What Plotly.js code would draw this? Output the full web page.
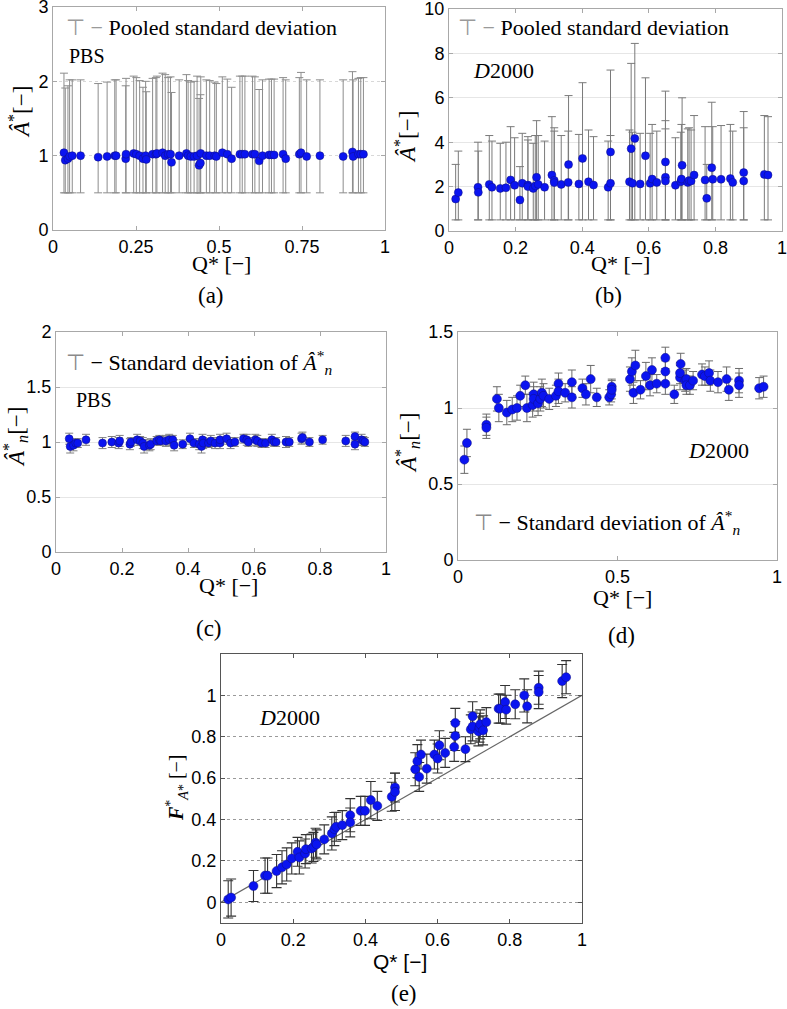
<!DOCTYPE html>
<html>
<head>
<meta charset="utf-8">
<script src="https://cdn.plot.ly/plotly-3.0.1.min.js"></script>
<style>html,body{margin:0;padding:0;background:#fff;}#chart{width:787px;height:1009px;}</style>
</head>
<body>
<div id="chart"></div>
<script>
// ---------- Panel (a): PBS, A* with pooled standard deviation ----------
const qA = [0.033,0.037,0.045,0.050,0.058,0.083,0.136,0.163,0.186,0.190,0.219,0.220,0.243,0.251,0.261,0.271,0.279,0.281,0.300,0.310,0.313,0.330,0.338,0.347,0.354,0.357,0.380,0.402,0.407,0.415,0.425,0.434,0.440,0.444,0.445,0.462,0.472,0.487,0.492,0.510,0.525,0.538,0.563,0.570,0.578,0.601,0.608,0.621,0.631,0.651,0.658,0.666,0.693,0.701,0.742,0.747,0.764,0.804,0.874,0.902,0.904,0.920,0.927,0.935];
const aA = [1.04,0.94,0.96,0.99,1.00,1.00,0.98,0.99,1.00,1.00,0.96,1.02,1.03,1.02,1.00,0.96,1.00,0.95,1.02,1.02,1.03,1.04,1.00,1.02,1.02,0.91,1.00,1.03,1.00,0.99,0.99,1.00,0.87,0.90,1.03,1.00,1.00,1.00,0.99,1.04,1.02,0.96,1.02,1.02,1.02,1.02,1.02,0.93,1.00,1.01,1.01,1.01,1.02,0.96,1.02,1.04,0.99,1.00,0.99,1.05,0.99,1.02,1.02,1.02];
const upperA = [2.11,1.91,1.94,2.02,2.02,2.02,1.97,1.99,2.02,2.02,1.94,2.04,2.07,2.05,2.01,1.92,2.00,1.86,2.04,2.05,2.07,2.11,2.09,2.05,2.06,1.85,2.02,2.09,2.01,1.99,2.00,2.07,1.77,1.82,2.06,2.02,2.01,1.99,1.97,2.06,2.03,1.92,2.07,2.07,2.07,2.07,2.06,1.89,2.02,2.03,2.03,2.03,2.05,2.02,2.05,2.12,2.02,2.02,2.02,2.13,2.02,2.04,2.05,2.05];
const lowerA = 0.5;

// ---------- Panel (b): D2000, A* with pooled standard deviation ----------
const qB = [0.020,0.028,0.087,0.088,0.121,0.129,0.154,0.171,0.185,0.197,0.213,0.220,0.237,0.237,0.253,0.259,0.263,0.268,0.287,0.309,0.316,0.316,0.337,0.358,0.359,0.390,0.401,0.419,0.434,0.478,0.485,0.485,0.542,0.547,0.551,0.558,0.574,0.590,0.604,0.610,0.624,0.650,0.650,0.650,0.680,0.696,0.698,0.700,0.717,0.721,0.727,0.736,0.769,0.774,0.789,0.792,0.817,0.845,0.852,0.885,0.885,0.947,0.958];
const aB = [1.44,1.73,1.97,1.74,2.10,1.97,1.92,1.95,2.30,2.06,1.40,2.15,2.07,2.00,1.92,2.03,2.42,2.10,1.97,2.52,2.28,2.18,2.10,2.19,2.99,2.12,3.27,2.22,2.07,1.97,3.56,2.15,2.22,3.71,2.15,4.17,2.12,3.39,2.15,2.34,2.19,3.11,2.42,2.25,2.06,2.22,2.34,2.96,2.19,2.27,2.25,2.52,2.30,1.47,2.85,2.33,2.33,2.36,2.19,2.63,2.25,2.55,2.52];
const upperB = [3.0,3.6,4.0,3.6,4.3,4.05,3.95,4.0,4.7,4.2,2.9,4.4,4.25,4.1,3.95,4.3,4.97,4.3,4.05,5.15,4.65,4.5,4.3,4.5,6.1,4.35,6.68,4.55,4.25,4.05,7.25,4.3,4.55,7.55,4.45,8.45,4.4,6.9,4.4,4.8,4.5,6.3,4.97,4.6,4.2,4.45,4.8,6.0,4.6,4.65,4.55,5.2,4.7,3.0,5.8,4.7,4.75,4.8,4.5,5.38,4.65,5.2,5.15];
const lowerB = 0.5;

// ---------- Panel (c): PBS, An* with standard deviation ----------
const qC = [0.040,0.043,0.053,0.060,0.066,0.091,0.141,0.169,0.190,0.193,0.224,0.227,0.246,0.255,0.263,0.267,0.283,0.287,0.305,0.313,0.317,0.333,0.343,0.354,0.358,0.384,0.406,0.418,0.434,0.441,0.444,0.446,0.462,0.469,0.482,0.497,0.497,0.517,0.529,0.542,0.568,0.578,0.583,0.604,0.610,0.623,0.635,0.654,0.661,0.667,0.697,0.707,0.744,0.747,0.768,0.808,0.878,0.906,0.906,0.926,0.931,0.936];
const aC = [1.03,0.96,0.97,0.99,0.99,1.02,0.99,1.00,0.99,1.01,0.98,1.00,1.02,1.01,0.99,0.96,0.97,0.98,1.01,1.02,1.01,1.01,1.02,1.02,0.97,0.98,1.03,0.99,0.98,0.96,1.02,0.99,0.99,1.01,0.99,0.99,1.02,1.03,0.99,1.00,1.03,1.02,1.00,1.02,1.01,0.99,0.99,1.02,1.00,1.00,1.00,1.00,1.03,1.04,1.00,1.02,1.01,1.05,0.98,1.02,1.01,1.00];
const sdC = [0.05,0.06,0.05,0.04,0.04,0.05,0.05,0.05,0.05,0.05,0.05,0.04,0.05,0.04,0.05,0.06,0.05,0.05,0.04,0.04,0.04,0.05,0.05,0.04,0.05,0.04,0.05,0.04,0.05,0.06,0.05,0.05,0.04,0.05,0.05,0.05,0.05,0.05,0.05,0.04,0.04,0.05,0.04,0.05,0.05,0.04,0.04,0.05,0.04,0.04,0.05,0.04,0.05,0.05,0.04,0.04,0.05,0.04,0.05,0.05,0.04,0.04];

// ---------- Panel (d): D2000, An* with standard deviation ----------
const qD = [0.020,0.028,0.089,0.089,0.122,0.128,0.153,0.170,0.185,0.195,0.211,0.216,0.234,0.237,0.237,0.251,0.258,0.263,0.268,0.286,0.307,0.315,0.315,0.336,0.357,0.357,0.390,0.401,0.416,0.435,0.474,0.480,0.482,0.482,0.539,0.545,0.550,0.556,0.572,0.589,0.602,0.608,0.623,0.650,0.650,0.650,0.678,0.696,0.696,0.698,0.712,0.716,0.716,0.727,0.737,0.765,0.774,0.787,0.791,0.815,0.842,0.849,0.881,0.881,0.944,0.958];
const aD = [0.66,0.77,0.89,0.87,1.06,1.00,0.97,0.99,1.00,1.08,1.15,1.00,1.02,1.09,1.06,1.03,1.06,1.10,1.08,1.06,1.08,1.16,1.11,1.10,1.17,1.07,1.13,1.09,1.19,1.07,1.07,1.09,1.14,1.12,1.19,1.24,1.10,1.28,1.12,1.21,1.15,1.25,1.16,1.33,1.24,1.16,1.09,1.20,1.23,1.29,1.18,1.19,1.15,1.15,1.18,1.22,1.21,1.23,1.18,1.17,1.19,1.12,1.18,1.15,1.13,1.14];
const sdD = [0.09,0.09,0.07,0.07,0.08,0.09,0.08,0.08,0.08,0.07,0.06,0.09,0.08,0.08,0.08,0.08,0.08,0.09,0.08,0.07,0.07,0.07,0.08,0.06,0.08,0.07,0.06,0.07,0.09,0.06,0.05,0.05,0.05,0.06,0.08,0.09,0.07,0.10,0.06,0.09,0.07,0.08,0.06,0.07,0.07,0.07,0.06,0.08,0.07,0.07,0.07,0.07,0.06,0.06,0.06,0.07,0.06,0.08,0.07,0.07,0.08,0.07,0.08,0.08,0.07,0.07];

// ---------- Panel (e): D2000, F*_A* vs Q* ----------
const qE = [0.020,0.028,0.090,0.122,0.129,0.154,0.169,0.182,0.196,0.212,0.217,0.233,0.235,0.251,0.256,0.262,0.265,0.286,0.307,0.314,0.319,0.336,0.358,0.358,0.387,0.399,0.415,0.433,0.473,0.482,0.482,0.538,0.544,0.549,0.554,0.570,0.591,0.600,0.605,0.621,0.646,0.649,0.649,0.677,0.692,0.697,0.697,0.713,0.716,0.718,0.726,0.735,0.769,0.774,0.787,0.790,0.815,0.840,0.848,0.880,0.880,0.945,0.956];
const fE = [0.014,0.023,0.079,0.129,0.129,0.151,0.169,0.183,0.212,0.244,0.217,0.236,0.257,0.260,0.268,0.288,0.280,0.304,0.333,0.354,0.365,0.373,0.421,0.386,0.442,0.442,0.494,0.466,0.510,0.555,0.534,0.643,0.682,0.606,0.714,0.646,0.714,0.695,0.759,0.722,0.751,0.804,0.867,0.740,0.836,0.899,0.850,0.826,0.844,0.860,0.831,0.871,0.936,0.936,0.968,0.931,0.957,1.000,0.947,1.037,1.016,1.069,1.088];
const sdE = [0.09,0.09,0.075,0.085,0.085,0.08,0.08,0.08,0.075,0.07,0.08,0.07,0.07,0.07,0.07,0.07,0.07,0.07,0.08,0.08,0.07,0.07,0.08,0.07,0.07,0.07,0.09,0.07,0.07,0.07,0.09,0.08,0.08,0.07,0.07,0.07,0.07,0.07,0.07,0.07,0.07,0.07,0.07,0.06,0.07,0.07,0.07,0.07,0.07,0.07,0.07,0.07,0.07,0.07,0.08,0.07,0.07,0.08,0.08,0.08,0.08,0.08,0.08];
const identityQ = [0, 1];
const identityF = [0, 1];

// ---------- tick labels ----------
const ticksA_x = [0, 0.25, 0.5, 0.75, 1], ticksA_xt = ['0','0.25','0.5','0.75','1'];
const ticksA_y = [0, 1, 2, 3], ticksA_yt = ['0','1','2','3'];
const ticksB_x = [0, 0.2, 0.4, 0.6, 0.8, 1], ticksB_xt = ['0','0.2','0.4','0.6','0.8','1'];
const ticksB_y = [0, 2, 4, 6, 8, 10], ticksB_yt = ['0','2','4','6','8','10'];
const ticksC_y = [0, 0.5, 1, 1.5, 2], ticksC_yt = ['0','0.5','1','1.5','2'];
const ticksD_x = [0, 0.5, 1], ticksD_xt = ['0','0.5','1'];
const ticksD_y = [0, 0.5, 1, 1.5], ticksD_yt = ['0','0.5','1','1.5'];
const ticksE_y = [0, 0.2, 0.4, 0.6, 0.8, 1], ticksE_yt = ['0','0.2','0.4','0.6','0.8','1'];

// ---------- build ----------
const W = 787, H = 1009;
const PX = p => p / W, PY = p => 1 - p / H;
const blue = '#0a14f0';
const mk = (s) => ({color: blue, size: s, line: {color: '#101080', width: 0.5}});

const traces = [
  {x: qA, y: aA, xaxis: 'x', yaxis: 'y', type: 'scatter', mode: 'markers', marker: mk(8),
   error_y: {type: 'data', symmetric: false, array: upperA.map((u, i) => u - aA[i]), arrayminus: aA.map(v => v - lowerA),
             color: '#8c8c8c', thickness: 1, width: 4}},
  {x: qB, y: aB, xaxis: 'x2', yaxis: 'y2', type: 'scatter', mode: 'markers', marker: mk(8),
   error_y: {type: 'data', symmetric: false, array: upperB.map((u, i) => u - aB[i]), arrayminus: aB.map(v => v - lowerB),
             color: '#7a7a7a', thickness: 1, width: 4}},
  {x: qC, y: aC, xaxis: 'x3', yaxis: 'y3', type: 'scatter', mode: 'markers', marker: mk(8),
   error_y: {type: 'data', array: sdC, color: '#808080', thickness: 1, width: 4}},
  {x: qD, y: aD, xaxis: 'x4', yaxis: 'y4', type: 'scatter', mode: 'markers', marker: mk(9),
   error_y: {type: 'data', array: sdD, color: '#6a6a6a', thickness: 1, width: 4}},
  {x: identityQ, y: identityF, xaxis: 'x5', yaxis: 'y5', type: 'scatter', mode: 'lines',
   line: {color: '#666', width: 1.2}},
  {x: qE, y: fE, xaxis: 'x5', yaxis: 'y5', type: 'scatter', mode: 'markers', marker: mk(9),
   error_y: {type: 'data', array: sdE, color: '#333', thickness: 1.1, width: 5}}
];

const tickfont = {family: 'Liberation Sans, Arial, sans-serif', size: 18, color: '#000'};
function ax(domain, range, tv, tt, extra) {
  return Object.assign({
    domain: domain, range: range, tickmode: 'array', tickvals: tv, ticktext: tt,
    showline: true, linecolor: '#a8a8a8', linewidth: 1, mirror: 'ticks',
    ticks: 'inside', ticklen: 4, tickcolor: '#a8a8a8', tickfont: tickfont,
    ticklabeloverflow: 'allow',
    zeroline: false, showgrid: false, fixedrange: true
  }, extra || {});
}

const layout = {
  width: W, height: H, margin: {l: 0, r: 0, t: 0, b: 0},
  paper_bgcolor: '#fff', plot_bgcolor: '#fff', showlegend: false,
  xaxis:  ax([PX(53), PX(385)], [0, 1], ticksA_x, ticksA_xt, {anchor: 'y'}),
  yaxis:  ax([PY(230), PY(7)], [0, 3], ticksA_y, ticksA_yt, {anchor: 'x', showgrid: true, gridcolor: '#d8d8d8', griddash: 'dot'}),
  xaxis2: ax([PX(449), PX(782)], [0, 1], ticksB_x, ticksB_xt, {anchor: 'y2'}),
  yaxis2: ax([PY(231), PY(9)], [0, 10], ticksB_y, ticksB_yt, {anchor: 'x2', showgrid: true, gridcolor: '#e6e6e6'}),
  xaxis3: ax([PX(56), PX(386)], [0, 1], ticksB_x, ticksB_xt, {anchor: 'y3'}),
  yaxis3: ax([PY(552), PY(332)], [0, 2], ticksC_y, ticksC_yt, {anchor: 'x3', showgrid: true, gridcolor: '#e6e6e6'}),
  xaxis4: ax([PX(458), PX(777)], [0, 1], ticksD_x, ticksD_xt, {anchor: 'y4'}),
  yaxis4: ax([PY(560), PY(332)], [0, 1.5], ticksD_y, ticksD_yt, {anchor: 'x4', showgrid: true, gridcolor: '#e6e6e6'}),
  xaxis5: ax([PX(221), PX(582)], [0, 1], ticksB_x, ticksB_xt, {anchor: 'y5', linecolor: '#555', tickcolor: '#555'}),
  yaxis5: ax([PY(923), PY(654)], [-0.1, 1.2], ticksE_y, ticksE_yt, {anchor: 'x5', linecolor: '#555', tickcolor: '#555', showgrid: true, gridcolor: '#9a9a9a', griddash: 'dot'}),
  annotations: []
};

const serif = 'Liberation Serif, Times New Roman, serif';
const sans = 'Liberation Sans, Arial, sans-serif';
function txt(text, x, y, size, opts) {
  layout.annotations.push(Object.assign({
    text: text, xref: 'paper', yref: 'paper', x: PX(x), y: PY(y),
    xanchor: 'center', yanchor: 'middle', showarrow: false,
    font: {family: serif, size: size, color: '#000'}
  }, opts || {}));
}

// legend-like texts
txt('<span style="color:#9a9a9a">⊤ −</span> Pooled standard deviation', 64, 27, 22, {xanchor: 'left'});
txt('<span style="color:#9a9a9a">⊤ −</span> Pooled standard deviation', 456, 27, 22, {xanchor: 'left'});
txt('<span style="color:#8a8a8a">⊤</span> − Standard deviation of <i>Â</i><sup>*</sup><sub><i>n</i></sub>', 64, 362, 22, {xanchor: 'left'});
txt('<span style="color:#8a8a8a">⊤</span> − Standard deviation of <i>Â</i><sup>*</sup><sub><i>n</i></sub>', 472, 522, 22, {xanchor: 'left'});

// sample labels
txt('PBS', 67, 56, 20, {xanchor: 'left'});
txt('PBS', 74, 400, 20, {xanchor: 'left'});
txt('<i>D</i>2000', 471, 70, 22, {xanchor: 'left'});
txt('<i>D</i>2000', 686, 450, 22, {xanchor: 'left'});
txt('<i>D</i>2000', 257, 717, 22, {xanchor: 'left'});

// axis titles
txt('Q* [−]', 222, 263, 22);
txt('Q* [−]', 620, 263, 22);
txt('Q* [−]', 228, 585, 22);
txt('Q* [−]', 622, 597, 22);
txt('Q* [−]', 400, 961, 21, {font: {family: sans, size: 21, color: '#000'}});
txt('<i>Â</i><sup>*</sup>[−]', 19, 112, 23, {textangle: -90});
txt('<i>Â</i><sup>*</sup>[−]', 406, 137, 23, {textangle: -90});
txt('<i>Â</i><sup>*</sup><sub><i>n</i></sub>[−]', 15, 437, 23, {textangle: -90});
txt('<i>Â</i><sup>*</sup><sub><i>n</i></sub>[−]', 407, 443, 23, {textangle: -90});
txt('<b><i>F</i></b><sup>*</sup><sub><i>A</i>*</sub> [−]', 177, 788, 20, {textangle: -90});

// captions
txt('(a)', 211, 296, 23);
txt('(b)', 608, 296, 23);
txt('(c)', 209, 628, 23);
txt('(d)', 621, 635, 23);
txt('(e)', 404, 993, 23);

Plotly.newPlot('chart', traces, layout, {staticPlot: true, displayModeBar: false});
</script>
</body>
</html>
